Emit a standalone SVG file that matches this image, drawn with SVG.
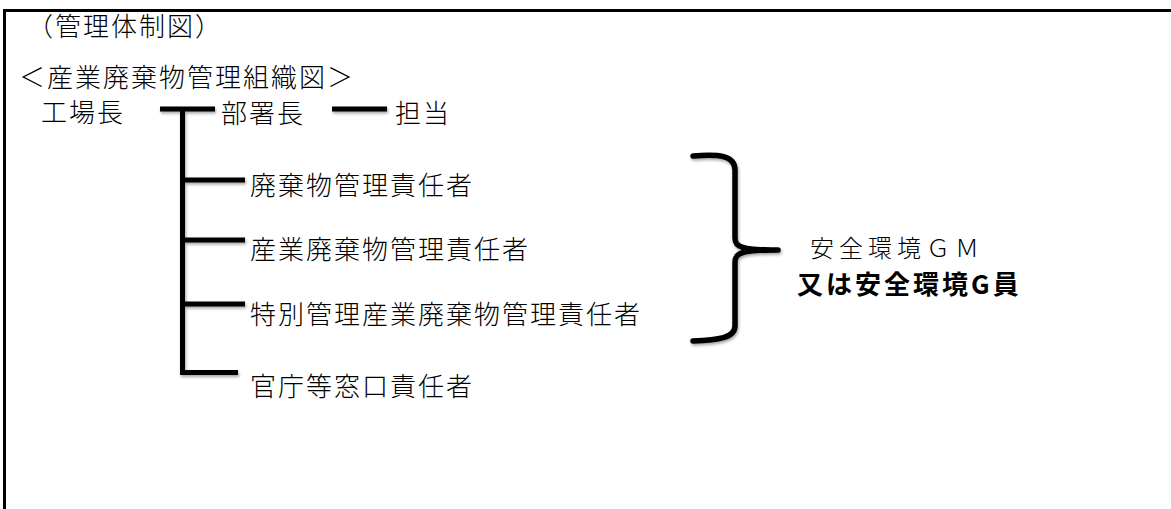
<svg xmlns="http://www.w3.org/2000/svg" width="1171" height="509" viewBox="0 0 1171 509">
  <style>
    .t { font-family: "Noto Sans CJK JP", "Noto Sans CJK SC", sans-serif; font-size: 26px; font-weight: 300; letter-spacing: 2px; fill: #000; }
    .s { font-family: "Liberation Serif", "Noto Sans CJK JP", serif; font-size: 24px; font-weight: 300; letter-spacing: 5px; fill: #000; }
    .b { font-family: "Noto Sans CJK JP", sans-serif; font-size: 26px; font-weight: bold; letter-spacing: 3px; fill: #000; }
    .ln { stroke: #000; stroke-width: 5; fill: none; stroke-linecap: butt; }
    .br { stroke: #000; stroke-width: 5.5; fill: none; stroke-linecap: round; stroke-linejoin: round; }
    .frame { stroke: #000; stroke-width: 3; fill: none; }
  </style>
  <defs>
    <filter id="sh" x="-20%" y="-20%" width="140%" height="140%">
      <feDropShadow dx="1" dy="2" stdDeviation="1.5" flood-color="#000" flood-opacity="0.35"/>
    </filter>
  </defs>
  <rect x="0" y="0" width="1171" height="509" fill="#fff"/>
  <path class="frame" d="M4.5,509 L4.5,10.5 L1171,10.5"/>

  <g id="title"><text class="t" x="27" y="36">（管理体制図）</text></g>
  <g id="subtitle"><text class="t" x="19" y="87" letter-spacing="3">＜産業廃棄物管理組織図＞</text></g>

  <g id="connectors" filter="url(#sh)">
    <line class="ln" x1="160" y1="109" x2="215" y2="109"/>
    <line class="ln" x1="182.5" y1="107" x2="182.5" y2="375"/>
    <line class="ln" x1="332" y1="109" x2="387" y2="109"/>
    <line class="ln" x1="182" y1="180" x2="245" y2="180"/>
    <line class="ln" x1="182" y1="240" x2="245" y2="240"/>
    <line class="ln" x1="182" y1="304" x2="245" y2="304"/>
    <line class="ln" x1="180" y1="372.5" x2="238" y2="372.5"/>
    <path class="br" d="M693,156 C718,154 735,155 735,170 L735,238 C735,247 741,250 778,250 M778,250 C741,250 735,253 735,262 L735,326 C735,338 718,340 693,341"/>
  </g>

  <g id="node-factory"><text class="t" x="41" y="122">工場長</text></g>
  <g id="node-dept"><text class="t" x="221" y="123">部署長</text></g>
  <g id="node-staff"><text class="t" x="395" y="123">担当</text></g>
  <g id="node-waste"><text class="t" x="250" y="195">廃棄物管理責任者</text></g>
  <g id="node-industrial"><text class="t" x="250" y="259">産業廃棄物管理責任者</text></g>
  <g id="node-special"><text class="t" x="250" y="324">特別管理産業廃棄物管理責任者</text></g>
  <g id="node-gov"><text class="t" x="250" y="396">官庁等窓口責任者</text></g>
  <g id="node-safety">
    <text class="s" x="810" y="257">安全環境ＧＭ</text>
    <text class="b" x="797" y="294">又は安全環境G員</text>
  </g>
</svg>
